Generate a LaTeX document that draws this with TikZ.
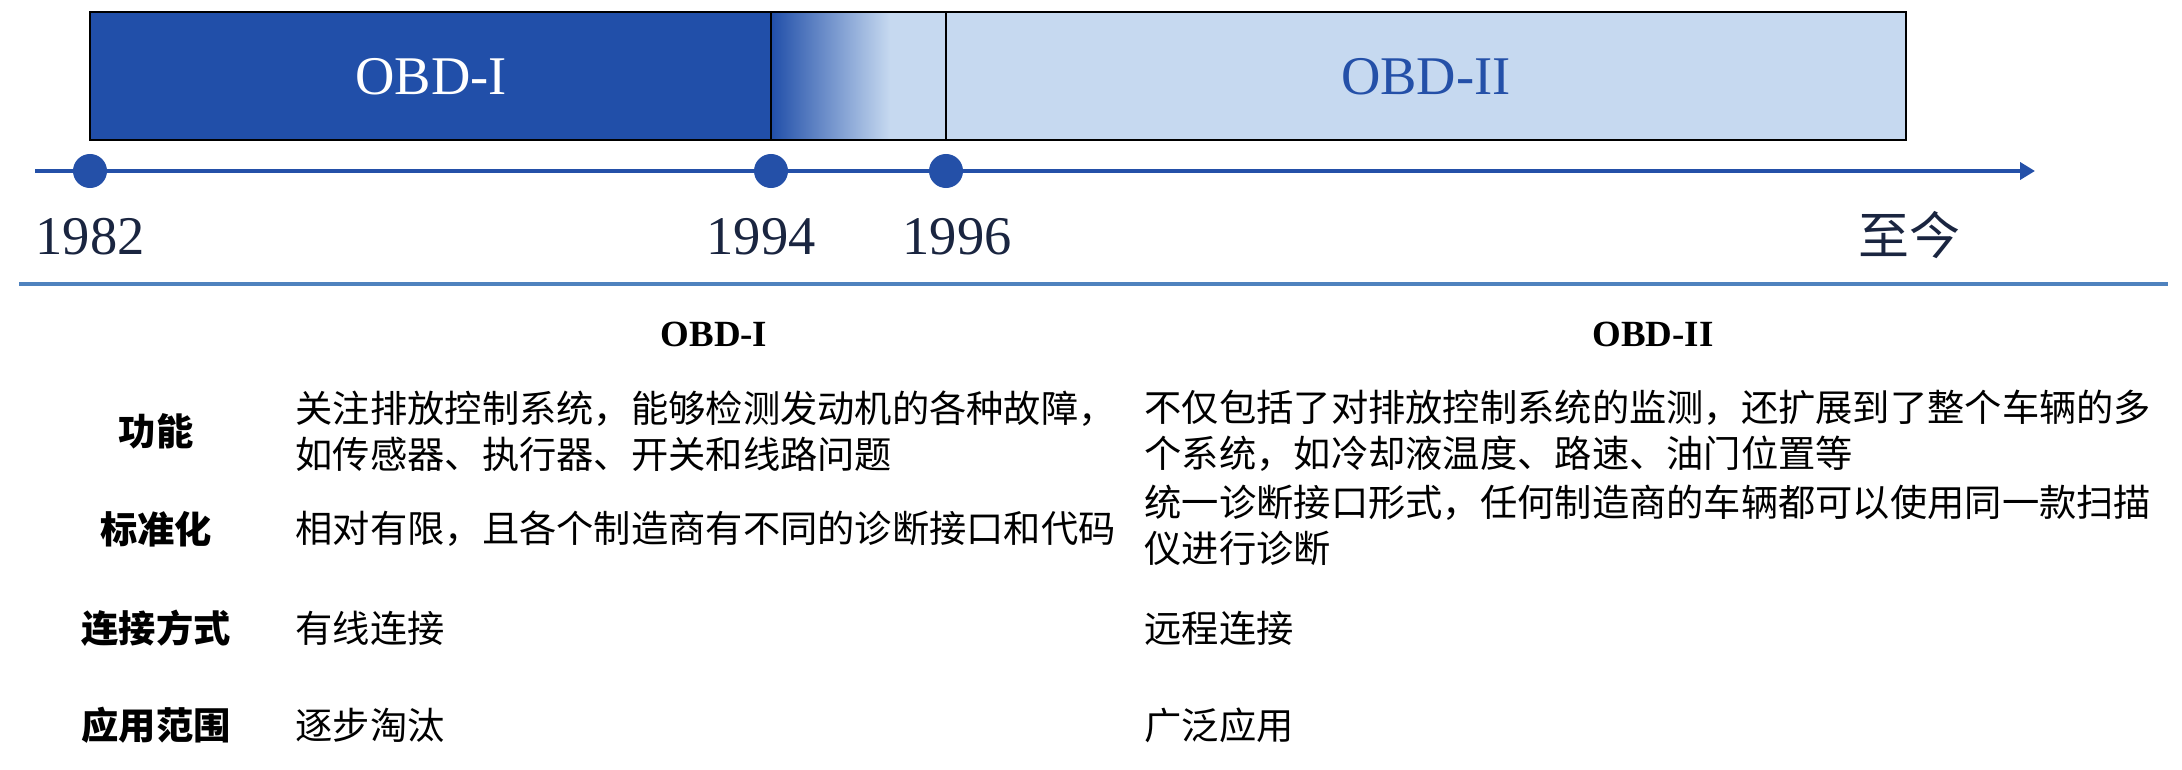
\documentclass[tikz,border=0pt]{standalone}
\usepackage{fontspec}
\setmainfont{Liberation Serif}
\newfontfamily\cjk{Noto Sans CJK SC}
\usetikzlibrary{positioning,arrows.meta}
\definecolor{darkblue}{HTML}{214FA9}
\definecolor{paleblue}{HTML}{C6D9F0}
\definecolor{lineblue}{HTML}{2450A8}
\definecolor{ruleblue}{HTML}{4F82BE}
\definecolor{yearink}{HTML}{1A2540}

\begin{document}
\begin{tikzpicture}[x=0.01cm, y=-0.01cm,
  yeardot/.style={circle, fill=lineblue, inner sep=0pt, minimum size=0.34cm},
  year/.style={font=\fontsize{15.5}{16}\selectfont, text=yearink, inner sep=0pt},
  rowname/.style={font=\cjk\bfseries\fontsize{10.6}{13}\selectfont, inner sep=0pt},
  cell/.style={font=\cjk\fontsize{10.6}{13.1}\selectfont, anchor=west, align=left, inner sep=0pt},
  colhead/.style={font=\bfseries\fontsize{10.5}{12}\selectfont, inner sep=0pt}]
\useasboundingbox (0,0) rectangle (2182,770);

\fill[darkblue] (90,12) rectangle (771,140);
\shade[left color=darkblue, right color=paleblue] (771,12) rectangle (890,140);
\fill[paleblue] (890,12) rectangle (1906,140);
\draw[line width=0.7pt] (90,12) rectangle (1906,140);
\draw[line width=0.7pt] (771,12) -- (771,140);
\draw[line width=0.7pt] (946,12) -- (946,140);
\node[font=\fontsize{15.5}{16}\selectfont, text=white] (obd1) at (431,77) {OBD-I};
\node[font=\fontsize{15.5}{16}\selectfont, text=lineblue] (obd2) at (1426,77) {OBD-II};

\coordinate (tstart) at (35,171);
\coordinate (tend) at (2035,171);
\draw[lineblue, line width=1.2pt, -{Triangle[length=0.15cm,width=0.17cm]}] (tstart) -- (tend);
\node[yeardot] (d1982) at (90,171) {};
\node[yeardot] (d1994) at (771,171) {};
\node[yeardot] (d1996) at (946,171) {};

\node[year] (y1982) at (90,237) {1982};
\node[year] (y1994) at (761,237) {1994};
\node[year] (y1996) at (957,237) {1996};
\node[year, font=\cjk\fontsize{14.5}{15}\selectfont] (ynow) at (1909,235) {至今};

\coordinate (rulel) at (19,284);
\coordinate (ruler) at (2168,284);
\draw[ruleblue, line width=1.1pt] (rulel) -- (ruler);

\node[colhead] (h1) at (714,334) {OBD-I};
\node[colhead] (h2) at (1653,334) {OBD-II};

\node[rowname] (r1) at (156,431) {功能};
\node[rowname] (r2) at (156,529) {标准化};
\node[rowname] (r3) at (156,628) {连接方式};
\node[rowname] (r4) at (156,725) {应用范围};

\node[cell] (a1) at (295,431) {关注排放控制系统，能够检测发动机的各种故障，\\如传感器、执行器、开关和线路问题};
\node[cell] (a2) at (295,529) {相对有限，且各个制造商有不同的诊断接口和代码};
\node[cell] (a3) at (295,628) {有线连接};
\node[cell] (a4) at (295,725) {逐步淘汰};

\node[cell] (b1) at (1144,431) {不仅包括了对排放控制系统的监测，还扩展到了整个车辆的多\\个系统，如冷却液温度、路速、油门位置等};
\node[cell] (b2) at (1144,525) {统一诊断接口形式，任何制造商的车辆都可以使用同一款扫描\\仪进行诊断};
\node[cell] (b3) at (1144,628) {远程连接};
\node[cell] (b4) at (1144,725) {广泛应用};
\end{tikzpicture}
\end{document}
